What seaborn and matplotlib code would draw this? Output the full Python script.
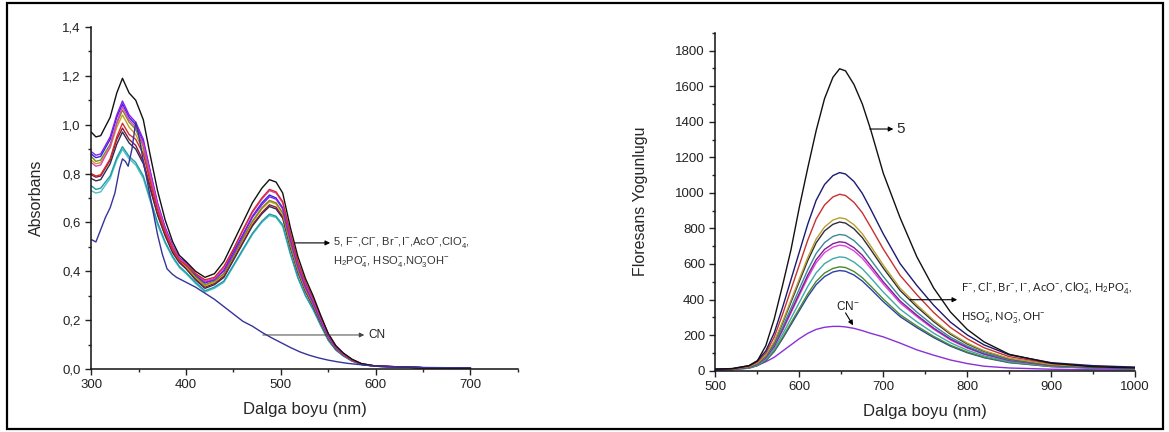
import pandas as pd
import seaborn as sns
import matplotlib.pyplot as plt
from matplotlib.patches import Rectangle
from matplotlib.ticker import MultipleLocator

# ---- absorbance panel data ----
ABS_WL = [300, 305, 310, 320, 327, 333, 340, 347, 355, 362, 370, 378, 386, 393, 400, 410, 420, 430,
          440, 450, 460, 470, 480, 488, 495, 502, 510, 518, 526, 534, 542, 550, 558, 566, 575, 585,
          600, 650, 700]
abs_black = [0.97, 0.95, 0.955, 1.03, 1.13, 1.19, 1.13, 1.10, 1.02, 0.88, 0.73, 0.61, 0.52, 0.465, 0.44, 0.40, 0.375, 0.39,
             0.44, 0.52, 0.60, 0.68, 0.74, 0.775, 0.765, 0.72, 0.58, 0.46, 0.37, 0.30, 0.22, 0.145, 0.095, 0.065, 0.04, 0.022,
             0.012, 0.005, 0.003]
abs_red = [0.80, 0.79, 0.795, 0.86, 0.95, 1.006, 0.96, 0.94, 0.88, 0.77, 0.65, 0.56, 0.49, 0.445, 0.425, 0.39, 0.365, 0.375,
           0.42, 0.49, 0.57, 0.645, 0.70, 0.735, 0.725, 0.685, 0.555, 0.44, 0.355, 0.29, 0.215, 0.145, 0.095, 0.063, 0.038, 0.021,
           0.012, 0.005, 0.003]
abs_pink = [0.845, 0.83, 0.835, 0.91, 1.01, 1.074, 1.02, 0.99, 0.92, 0.80, 0.67, 0.57, 0.50, 0.45, 0.43, 0.39, 0.36, 0.37,
            0.415, 0.49, 0.565, 0.64, 0.695, 0.73, 0.72, 0.68, 0.55, 0.435, 0.35, 0.285, 0.21, 0.14, 0.092, 0.062, 0.038, 0.021,
            0.012, 0.005, 0.003]
abs_blue = [0.88, 0.865, 0.87, 0.94, 1.03, 1.085, 1.03, 1.00, 0.93, 0.81, 0.675, 0.575, 0.50, 0.45, 0.43, 0.385, 0.352, 0.365,
            0.405, 0.48, 0.55, 0.625, 0.68, 0.712, 0.70, 0.66, 0.535, 0.425, 0.34, 0.275, 0.20, 0.135, 0.088, 0.06, 0.037, 0.02,
            0.011, 0.005, 0.003]
abs_violet = [0.89, 0.875, 0.88, 0.95, 1.04, 1.097, 1.04, 1.01, 0.94, 0.815, 0.68, 0.58, 0.505, 0.455, 0.435, 0.39, 0.355, 0.367,
              0.40, 0.47, 0.545, 0.62, 0.672, 0.705, 0.695, 0.655, 0.53, 0.42, 0.335, 0.272, 0.20, 0.133, 0.087, 0.059, 0.036, 0.02,
              0.011, 0.005, 0.003]
abs_olive = [0.87, 0.85, 0.855, 0.92, 1.005, 1.06, 1.01, 0.98, 0.91, 0.79, 0.665, 0.57, 0.495, 0.45, 0.425, 0.38, 0.345, 0.36,
             0.39, 0.46, 0.535, 0.605, 0.66, 0.69, 0.68, 0.64, 0.515, 0.41, 0.33, 0.267, 0.195, 0.13, 0.085, 0.058, 0.036, 0.02,
             0.011, 0.005, 0.003]
abs_dyellow = [0.855, 0.84, 0.845, 0.905, 0.99, 1.04, 0.99, 0.96, 0.895, 0.78, 0.655, 0.565, 0.49, 0.445, 0.42, 0.375, 0.34, 0.355,
               0.39, 0.46, 0.53, 0.60, 0.655, 0.685, 0.675, 0.635, 0.51, 0.405, 0.325, 0.265, 0.195, 0.128, 0.084, 0.057, 0.035, 0.019,
               0.011, 0.005, 0.003]
abs_wine = [0.795, 0.785, 0.79, 0.855, 0.94, 0.986, 0.94, 0.915, 0.85, 0.75, 0.635, 0.55, 0.48, 0.44, 0.415, 0.37, 0.335, 0.35,
            0.38, 0.45, 0.52, 0.59, 0.64, 0.672, 0.662, 0.623, 0.50, 0.40, 0.32, 0.26, 0.19, 0.126, 0.082, 0.056, 0.035, 0.019,
            0.011, 0.005, 0.003]
abs_dark = [0.78, 0.77, 0.775, 0.84, 0.92, 0.97, 0.925, 0.90, 0.84, 0.74, 0.63, 0.545, 0.475, 0.435, 0.41, 0.365, 0.33, 0.345,
            0.375, 0.445, 0.515, 0.585, 0.635, 0.665, 0.655, 0.617, 0.50, 0.395, 0.317, 0.257, 0.19, 0.125, 0.082, 0.056, 0.034, 0.019,
            0.011, 0.005, 0.003]
abs_cyan = [0.75, 0.735, 0.74, 0.79, 0.865, 0.91, 0.87, 0.845, 0.79, 0.70, 0.60, 0.52, 0.46, 0.42, 0.395, 0.355, 0.32, 0.335,
            0.36, 0.425, 0.49, 0.555, 0.605, 0.634, 0.625, 0.59, 0.475, 0.375, 0.30, 0.245, 0.18, 0.118, 0.078, 0.053, 0.033, 0.018,
            0.011, 0.005, 0.003]
abs_lcyan = [0.73, 0.72, 0.725, 0.78, 0.855, 0.90, 0.86, 0.835, 0.78, 0.69, 0.59, 0.515, 0.455, 0.415, 0.39, 0.35, 0.315, 0.33,
             0.355, 0.42, 0.485, 0.55, 0.60, 0.628, 0.62, 0.583, 0.47, 0.372, 0.30, 0.243, 0.178, 0.117, 0.077, 0.053, 0.032, 0.018,
             0.011, 0.005, 0.003]

ABS_CN_WL = [300, 305, 310, 315, 320, 325, 330, 333, 336, 339, 343, 347, 350, 355, 360, 365, 370, 375, 380, 385,
             390, 395, 400, 410, 420, 430, 440, 450, 460, 470, 480, 490, 500, 510, 520, 530, 540, 550, 560, 570,
             580, 590, 600, 620, 650, 700]
abs_cn = [0.53, 0.52, 0.57, 0.62, 0.66, 0.72, 0.82, 0.86, 0.85, 0.83, 0.90, 1.01, 0.96, 0.85, 0.75, 0.65, 0.55, 0.47, 0.41, 0.39,
          0.375, 0.365, 0.355, 0.335, 0.31, 0.285, 0.255, 0.225, 0.195, 0.175, 0.15, 0.128, 0.108, 0.088, 0.07, 0.056, 0.045, 0.036, 0.029, 0.023,
          0.019, 0.015, 0.012, 0.009, 0.006, 0.004]

abs_curves = {
    'lcyan': abs_lcyan, 'cyan': abs_cyan, 'dark': abs_dark, 'wine': abs_wine, 'dyellow': abs_dyellow,
    'olive': abs_olive, 'blue': abs_blue, 'violet': abs_violet, 'pink': abs_pink, 'red': abs_red, 'black': abs_black,
}
abs_colors = {
    'black': '#111111', 'red': '#d42a2a', 'pink': '#e040c8', 'blue': '#2a2ae0', 'violet': '#8a1ee8',
    'olive': '#7a8a1a', 'dyellow': '#c8a020', 'wine': '#8a1a30', 'dark': '#2a2a5a', 'cyan': '#1e9aa8',
    'lcyan': '#4cc0c0', 'CN': '#34349a',
}

ABS_XTICKS = [300, 400, 500, 600, 700]
ABS_YTICKS = [0.0, 0.2, 0.4, 0.6, 0.8, 1.0, 1.2, 1.4]
ABS_YTICK_LABELS = ['0,0', '0,2', '0,4', '0,6', '0,8', '1,0', '1,2', '1,4']

# ---- fluorescence panel data ----
FL_WL = [500, 520, 540, 550, 560, 570, 580, 590, 600, 610, 620, 630, 640, 648, 655, 665, 675, 685,
         700, 720, 740, 760, 780, 800, 820, 850, 900, 950, 1000]
fl_black = [8, 12, 28, 55, 140, 290, 480, 680, 920, 1140, 1350, 1530, 1650, 1698, 1686, 1610, 1500, 1355,
            1110, 860, 640, 465, 330, 232, 162, 92, 42, 22, 15]
fl_navy = [9, 11, 28, 56, 111, 212, 356, 512, 668, 824, 958, 1047, 1097, 1114, 1106, 1064, 997, 908,
           769, 602, 479, 368, 273, 201, 145, 89, 45, 28, 20]
fl_red = [8, 10, 25, 50, 99, 188, 317, 456, 595, 734, 853, 932, 977, 992, 985, 947, 888, 808,
          684, 536, 427, 327, 243, 179, 129, 79, 40, 25, 18]
fl_dyellow = [7, 9, 22, 43, 86, 163, 275, 396, 516, 636, 740, 808, 847, 860, 854, 821, 770, 701,
              593, 464, 370, 284, 211, 155, 112, 69, 34, 22, 15]
fl_dark = [7, 8, 21, 42, 84, 159, 268, 385, 502, 619, 719, 786, 823, 836, 830, 798, 748, 681,
           577, 451, 359, 276, 205, 150, 109, 67, 33, 21, 15]
fl_teal = [6, 8, 19, 38, 77, 146, 245, 352, 460, 567, 659, 720, 755, 766, 761, 732, 686, 624,
           529, 414, 329, 253, 188, 138, 100, 61, 31, 19, 14]
fl_purple = [6, 7, 18, 36, 73, 138, 232, 334, 435, 537, 624, 682, 714, 725, 720, 692, 649, 591,
             500, 392, 312, 239, 178, 131, 94, 58, 29, 18, 13]
fl_magenta = [6, 7, 18, 35, 71, 134, 226, 325, 424, 522, 607, 664, 695, 706, 701, 674, 632, 575,
              487, 381, 304, 233, 173, 127, 92, 56, 28, 18, 13]
fl_cyan = [5, 6, 16, 32, 64, 122, 205, 294, 384, 474, 550, 602, 630, 640, 636, 611, 573, 522,
           442, 346, 275, 211, 157, 115, 83, 51, 26, 16, 12]
fl_olive = [5, 6, 15, 29, 58, 111, 187, 269, 350, 432, 502, 549, 575, 584, 580, 558, 523, 476,
            403, 315, 251, 193, 143, 105, 76, 47, 23, 15, 11]
fl_blue = [5, 6, 14, 28, 56, 107, 180, 259, 338, 417, 484, 529, 555, 563, 559, 538, 504, 459,
           388, 304, 242, 186, 138, 101, 73, 45, 23, 14, 10]
fl_cn = [5, 8, 18, 30, 50, 75, 110, 145, 180, 210, 232, 244, 249, 249, 246, 238, 225, 210,
         190, 155, 117, 87, 60, 40, 25, 15, 8, 5, 4]

fl_curves = {
    'cn': fl_cn, 'blue': fl_blue, 'olive': fl_olive, 'cyan': fl_cyan, 'magenta': fl_magenta,
    'purple': fl_purple, 'teal': fl_teal, 'dark': fl_dark, 'dyellow': fl_dyellow, 'red': fl_red,
    'navy': fl_navy, 'black': fl_black,
}
fl_colors = {
    'black': '#111111', 'navy': '#1a1a70', 'red': '#c83030', 'dyellow': '#b8a030', 'dark': '#2e2e3a',
    'teal': '#3a8898', 'purple': '#7a2090', 'magenta': '#e040e0', 'cyan': '#40a8a8', 'olive': '#4a8a2a',
    'blue': '#2a40a8', 'cn': '#8a30d8',
}

FL_XTICKS = [500, 600, 700, 800, 900, 1000]
FL_YTICKS = [0, 200, 400, 600, 800, 1000, 1200, 1400, 1600, 1800]


def long_frame(wl, curves):
    rows = []
    for name, vals in curves.items():
        for x, y in zip(wl, vals):
            rows.append({'wl': x, 'val': y, 'series': name})
    return pd.DataFrame(rows)


sns.set_style('ticks')
plt.rcParams['font.family'] = ['Liberation Sans', 'DejaVu Sans']
plt.rcParams['mathtext.default'] = 'regular'

abs_df = pd.concat([long_frame(ABS_WL, abs_curves),
                    long_frame(ABS_CN_WL, {'CN': abs_cn})], ignore_index=True)
fl_df = long_frame(FL_WL, fl_curves)

fig = plt.figure(figsize=(11.69, 4.32), dpi=100)
ax1 = fig.add_axes([0.078, 0.146, 0.365, 0.7915])
ax2 = fig.add_axes([0.612, 0.142, 0.359, 0.782])

sns.lineplot(data=abs_df, x='wl', y='val', hue='series', palette=abs_colors,
             estimator=None, legend=False, lw=1.0, ax=ax1)
sns.lineplot(data=fl_df, x='wl', y='val', hue='series', palette=fl_colors,
             estimator=None, legend=False, lw=1.0, ax=ax2)

# absorbance axes
ax1.set_xlim(300, 750)
ax1.set_ylim(0, 1.4)
ax1.set_xticks(ABS_XTICKS)
ax1.set_yticks(ABS_YTICKS)
ax1.set_yticklabels(ABS_YTICK_LABELS)
ax1.xaxis.set_minor_locator(MultipleLocator(50))
ax1.yaxis.set_minor_locator(MultipleLocator(0.1))
ax1.set_xlabel('Dalga boyu (nm)', fontsize=12, labelpad=8)
ax1.set_ylabel('Absorbans', fontsize=11.5, labelpad=13)

# fluorescence axes
ax2.set_xlim(500, 1000)
ax2.set_ylim(0, 1900)
ax2.set_xticks(FL_XTICKS)
ax2.set_yticks(FL_YTICKS)
ax2.xaxis.set_minor_locator(MultipleLocator(50))
ax2.yaxis.set_minor_locator(MultipleLocator(100))
ax2.set_xlabel('Dalga boyu (nm)', fontsize=12, labelpad=8)
ax2.set_ylabel('Floresans Yogunlugu', fontsize=11.5, labelpad=20)

for ax in (ax1, ax2):
    sns.despine(ax=ax)
    ax.tick_params(which='major', direction='out', length=4, width=1, labelsize=9.5, colors='#222222')
    ax.tick_params(which='minor', direction='out', length=2.5, width=1)
    for s in ('left', 'bottom'):
        ax.spines[s].set_linewidth(1.1)
        ax.spines[s].set_color('#111111')

arrow = dict(arrowstyle='-|>', color='black', lw=0.8, mutation_scale=7, shrinkA=0, shrinkB=0)
gray_arrow = dict(arrowstyle='-|>', color='#444444', lw=0.7, mutation_scale=7, shrinkA=0, shrinkB=0)

# absorbance annotations
ax1.annotate('', xy=(552, 0.516), xytext=(515, 0.516), arrowprops=arrow)
ax1.text(555, 0.516, r'5, F$^{-}$,Cl$^{-}$, Br$^{-}$,I$^{-}$,AcO$^{-}$,ClO$_4^{-}$,',
         fontsize=8, va='center', color='#333333')
ax1.text(555, 0.44, r'H$_2$PO$_4^{-}$, HSO$_4^{-}$,NO$_3^{-}$OH$^{-}$',
         fontsize=8, va='center', color='#333333')
ax1.annotate('', xy=(588, 0.139), xytext=(481, 0.139), arrowprops=gray_arrow)
ax1.text(592, 0.139, 'CN', fontsize=8.5, va='center', color='#222222')

# fluorescence annotations
ax2.annotate('', xy=(712, 1359), xytext=(684, 1359), arrowprops=arrow)
ax2.text(716, 1359, '5', fontsize=11, va='center')
ax2.annotate('', xy=(788, 399), xytext=(732, 399), arrowprops=arrow)
ax2.text(792, 467, r'F$^{-}$, Cl$^{-}$, Br$^{-}$, I$^{-}$, AcO$^{-}$, ClO$_4^{-}$, H$_2$PO$_4^{-}$,',
         fontsize=8, va='center', color='#222222', family=['Lato', 'DejaVu Sans'])
ax2.text(792, 297, r'HSO$_4^{-}$, NO$_3^{-}$, OH$^{-}$',
         fontsize=8, va='center', color='#222222', family=['Lato', 'DejaVu Sans'])
ax2.text(658, 361, r'CN$^{-}$', fontsize=8.5, ha='center', va='center', color='#222222')
ax2.annotate('', xy=(664, 255), xytext=(655, 325), arrowprops=arrow)

# outer frame
fig.patches.append(Rectangle((0.006, 0.006), 0.989, 0.988, transform=fig.transFigure,
                             fill=False, edgecolor='black', linewidth=1.6))

fig.savefig('out.png', dpi=100)
